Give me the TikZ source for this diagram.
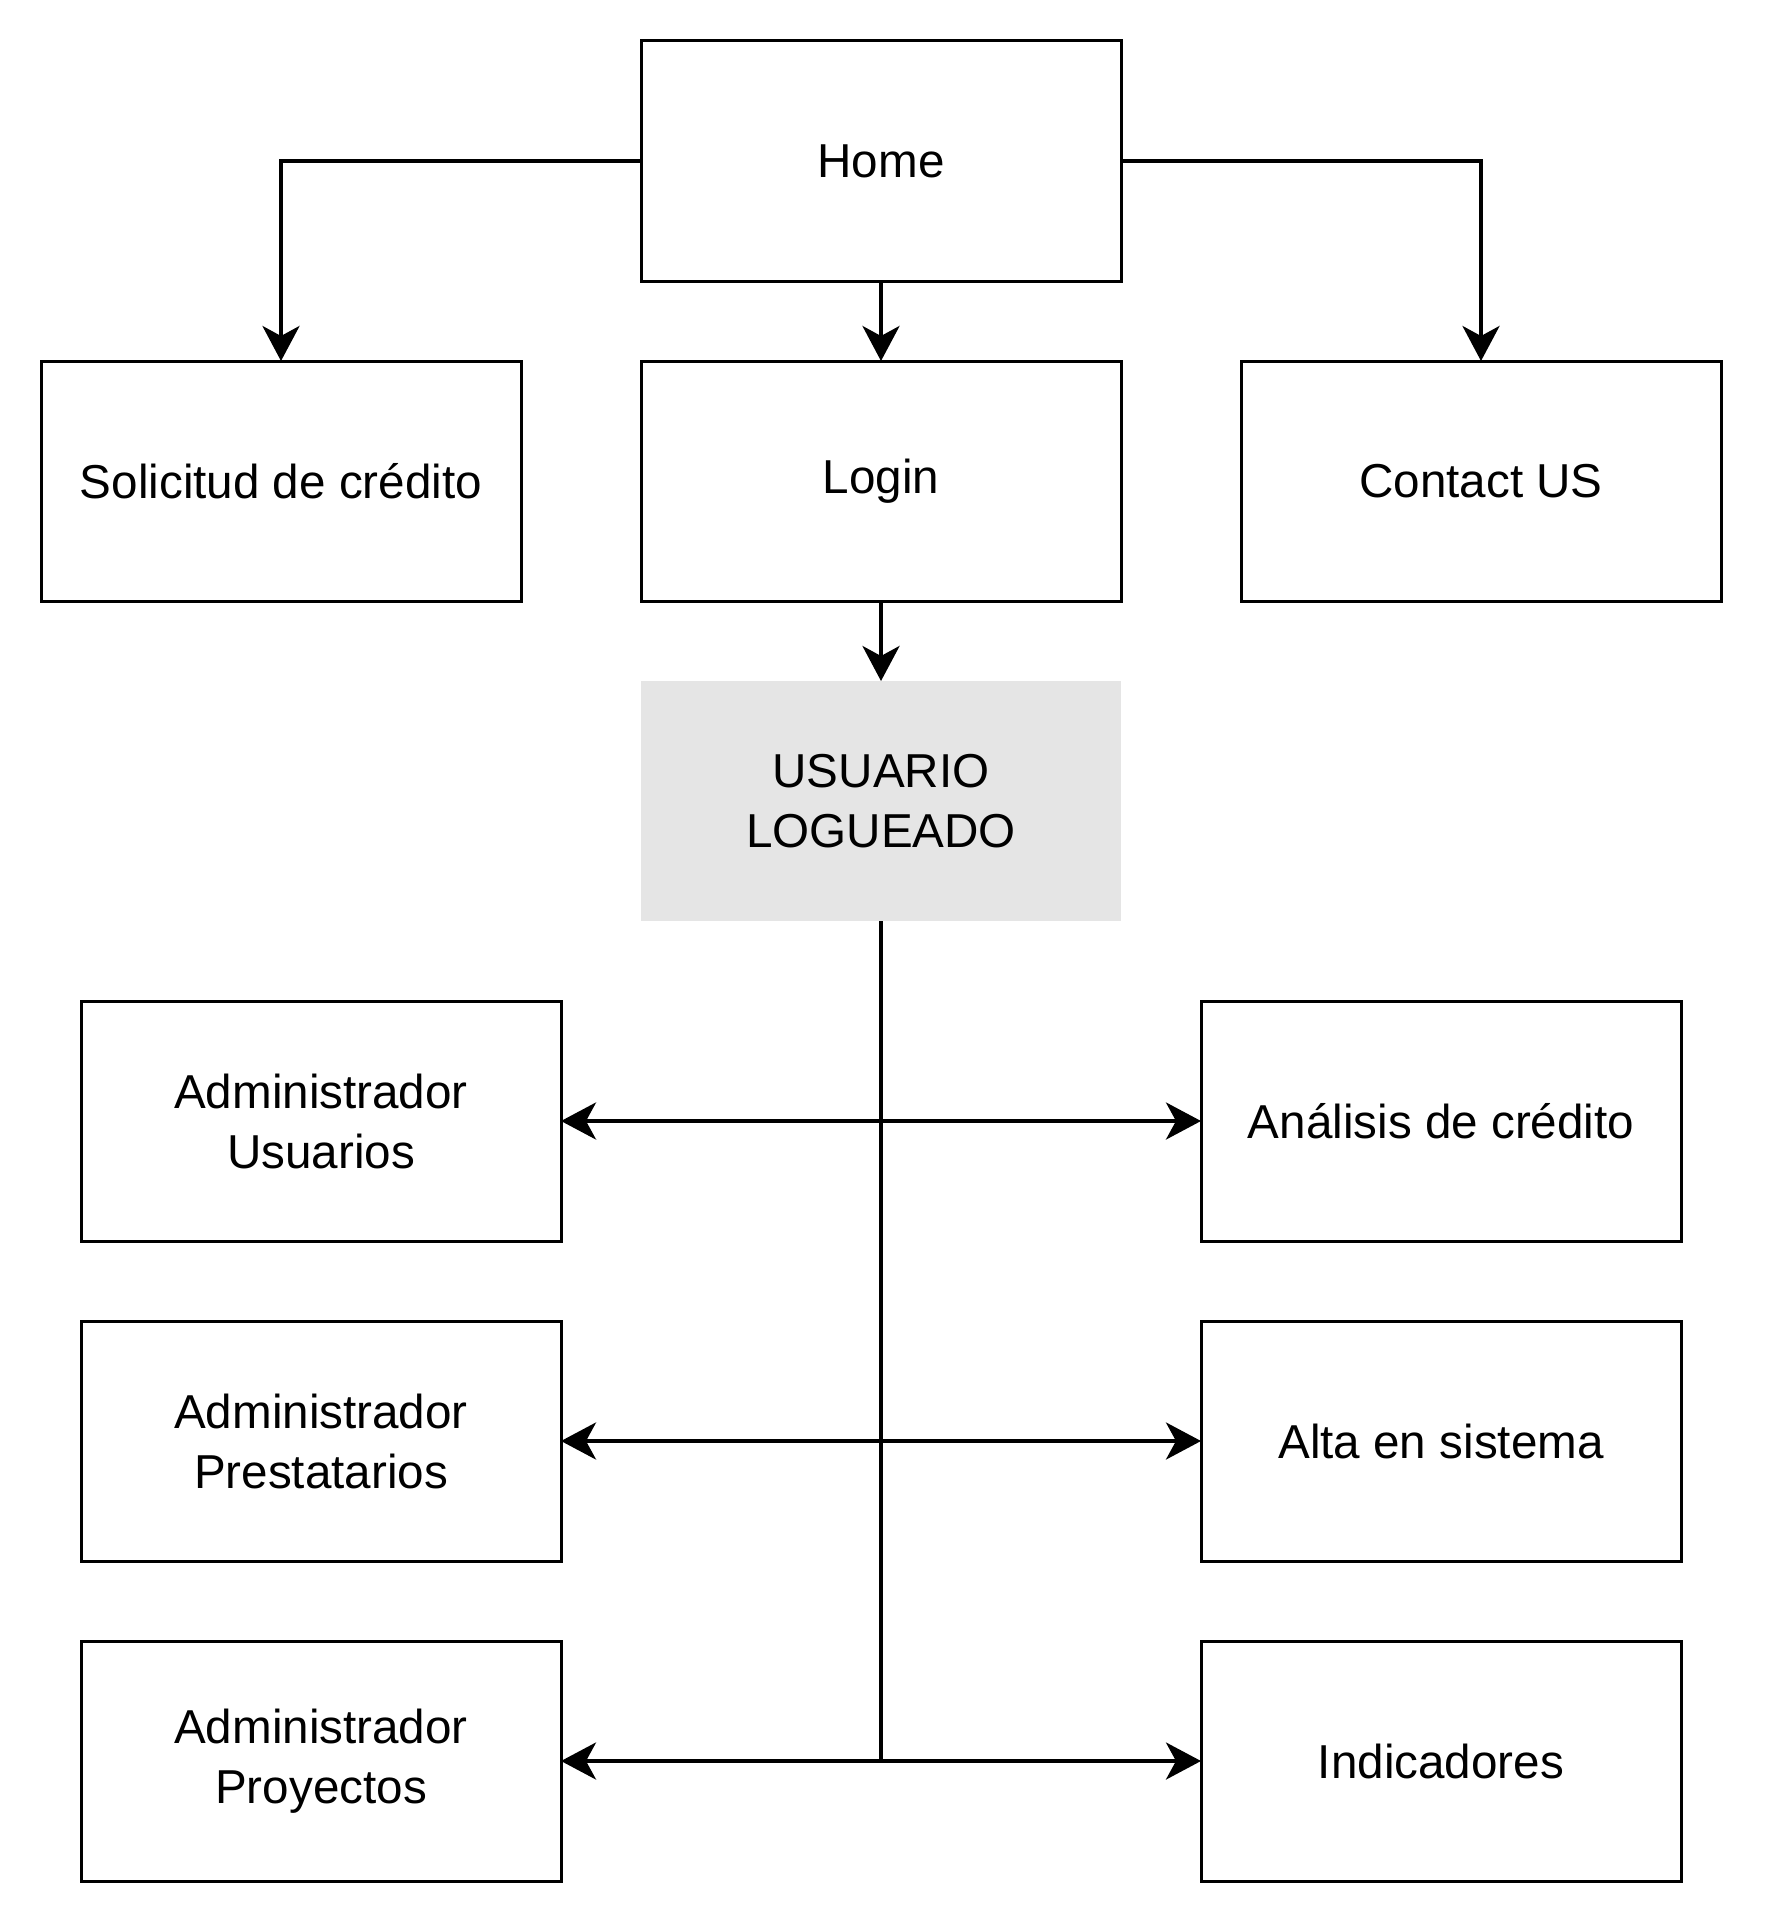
\documentclass[tikz,border=0pt]{standalone}
\usepackage{fontspec}
\setmainfont{Liberation Sans}
\usetikzlibrary{positioning,arrows.meta}

\begin{document}
\begin{tikzpicture}[x=1pt, y=-1pt,
  page/.style={
    draw, line width=3pt,
    minimum width=480pt, minimum height=240pt,
    inner sep=0pt, outer sep=0pt,  % boxes measured on the stroke
    align=center, font=\fontsize{47.6}{60}\selectfont
  },
  logged/.style={page, draw=none, fill=black!10},
  link/.style={line width=4pt, -{Stealth[length=35pt, width=37pt, inset=10pt]}},
  both/.style={line width=4pt,
    {Stealth[length=35pt, width=37pt, inset=10pt]}-{Stealth[length=35pt, width=37pt, inset=10pt]}}
]
\useasboundingbox (0,0) rectangle (1764,1924);
\def\vgap{80pt} % gap between rows of boxes

% --- Top level ---
\node[page] (home) at (881,161) {Home};
\node[page, below=\vgap of home] (login) {Login};
\node[page, left=120pt of login] (solicitud) {Solicitud de crédito};
\node[page, right=120pt of login] (contact) {Contact US};

\draw[link] (home.west) -| (solicitud);
\draw[link] (home) -- (login);
\draw[link] (home.east) -| (contact);

% --- Logged user ---
\node[logged, below=\vgap of login] (usuario) {USUARIO\\LOGUEADO};
\draw[link] (login) -- (usuario);

% --- Modules ---
\foreach \y/\l/\r [count=\i] in {1121/{Administrador\\Usuarios}/{Análisis de crédito},
                                 1441/{Administrador\\Prestatarios}/{Alta en sistema},
                                 1761/{Administrador\\Proyectos}/{Indicadores}} {
  \node[page] (adm\i) at (321,\y) {\l};
  \node[page] (mod\i) at (1441,\y) {\r};
  \draw[both] (adm\i) -- (mod\i);
}

\coordinate (junc) at (usuario.south |- adm3);
\draw[line width=4pt] (usuario) -- (junc);

\end{tikzpicture}
\end{document}
